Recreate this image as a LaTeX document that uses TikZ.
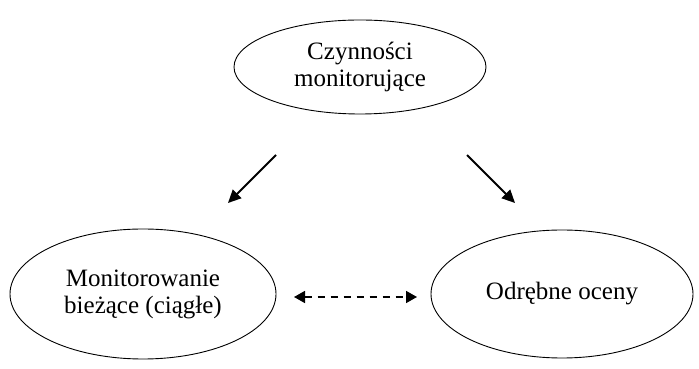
\documentclass[tikz,border=0pt]{standalone}
\usepackage{fontspec}
\setmainfont{Liberation Serif}
\usetikzlibrary{arrows.meta,shapes.geometric}

\tikzset{
    bubble/.style={draw, ellipse, inner sep=0pt, line width=0.9pt, align=center,
        font=\fontsize{25}{27}\selectfont},
    flow/.style={line width=1.8pt, -{Triangle[length=13pt,width=12pt]}},
    link/.style={line width=1.6pt, dash pattern=on 7pt off 6pt,
        {Triangle[length=11pt,width=12pt]}-{Triangle[length=11pt,width=12pt]}}
}

\begin{document}
\begin{tikzpicture}[x=1pt,y=1pt]
    \useasboundingbox (0,0) rectangle (699,369);

    \node[bubble, minimum width=252pt, minimum height=94pt] (monit) at (360,302) {Czynności\\monitorujące};
    \node[bubble, minimum width=266pt, minimum height=130pt] (biez) at (143,75) {Monitorowanie\\bieżące (ciągłe)};
    \node[bubble, minimum width=262pt, minimum height=128pt] (oceny) at (562,75) {Odrębne oceny};

    \coordinate (lstart) at (276,214);
    \coordinate (lend) at (228,166);
    \coordinate (rstart) at (467,214);
    \coordinate (rend) at (515,166);
    \coordinate (dleft) at (294,72);
    \coordinate (dright) at (417,72);

    \draw[flow] (lstart) -- (lend);
    \draw[flow] (rstart) -- (rend);
    \draw[link] (dleft) -- (dright);
\end{tikzpicture}
\end{document}
